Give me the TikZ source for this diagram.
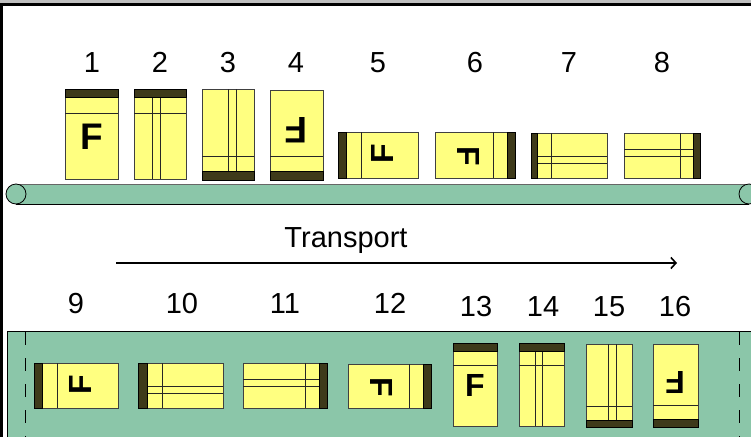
\documentclass[tikz,border=0pt]{standalone}
\usepackage{fontspec}
\setmainfont{Liberation Sans}
\usepackage{tikz}
\usetikzlibrary{arrows.meta}

\definecolor{beltgreen}{RGB}{139,198,169}
\definecolor{sheetyellow}{RGB}{255,255,128}
\definecolor{hemdark}{RGB}{62,58,26}

\begin{document}
\begin{tikzpicture}[x=1pt,y=-1pt,
  sheet/.style={draw=black!75,fill=sheetyellow,line width=0.8pt},
  hem/.style={draw=black,fill=hemdark,line width=0.6pt},
  fold/.style={draw=black!85,line width=0.7pt},
  belt/.style={fill=beltgreen,draw=black,line width=0.8pt},
  letter/.style={font=\fontsize{37}{37}\selectfont\bfseries,inner sep=0pt},
  smallletter/.style={font=\fontsize{32}{32}\selectfont\bfseries,inner sep=0pt},
  num/.style={font=\fontsize{29}{29}\selectfont,anchor=base,inner sep=0pt},
  arrow/.style={-{Straight Barb[length=5pt,width=11pt]},line width=1.6pt}
]
\useasboundingbox (0,0) rectangle (751,437);
% frame
\fill[black!25] (0,0) rectangle (751,3);
\fill[black] (0,3) rectangle (751,6);
\fill[black] (0,3) rectangle (2.5,437);

% upper conveyor
\fill[beltgreen] (16,184) rectangle (749,204);
\draw[black!60,line width=0.8pt] (16,184) -- (749,184);
\draw[line width=0.8pt] (16,204) -- (749,204);
\draw[belt] (16,194) circle (10);
\draw[belt] (749,194) circle (10);

% lower conveyor
\fill[beltgreen] (7,331) rectangle (751,437);
\draw[line width=0.8pt] (751,331) -- (7,331) -- (7,437);
\draw[line width=0.8pt,dash pattern=on 13pt off 13pt] (25,332) -- (25,437);
\draw[line width=0.8pt,dash pattern=on 13pt off 13pt] (739,332) -- (739,437);

% numbers
\foreach \i/\x in {1/92,2/160,3/228,4/296,5/378,6/475,7/569,8/662}
  \node[num] (n\i) at (\x,72) {\i};
\foreach \i/\x in {9/76,10/182,11/285,12/390}
  \node[num] (n\i) at (\x,313) {\i};
\foreach \i/\x in {13/476,14/543,15/609,16/675}
  \node[num] (n\i) at (\x,316) {\i};

% transport direction
\node[num] (transport) at (346,247) {Transport};
\coordinate (tstart) at (116,263);
\coordinate (tend) at (677,263);
\draw[arrow] (tstart) -- (tend);

% sheet 1
\draw[sheet] (65,89) rectangle (118,179);
\draw[hem] (65,89) rectangle (118,97);
\draw[fold] (65,113) -- (118,113);
\node[letter] (f1) at (92,137) {F};
% sheet 2
\draw[sheet] (134,89) rectangle (186,179);
\draw[fold] (152,89) -- (152,179) (160,89) -- (160,179);
\draw[hem] (134,89) rectangle (186,97);
\draw[fold] (134,113) -- (186,113);
% sheet 3
\draw[sheet] (202,89) rectangle (254,180);
\draw[fold] (228,89) -- (228,180) (236,89) -- (236,180);
\draw[hem] (202,171) rectangle (254,180);
\draw[fold] (202,156) -- (254,156);
% sheet 4
\draw[sheet] (270,90) rectangle (323,180);
\draw[hem] (270,171) rectangle (323,180);
\draw[fold] (270,156) -- (323,156);
\node[letter,rotate=180] (f4) at (296,130) {F};
% sheet 5
\draw[sheet] (338,132) rectangle (418,178);
\draw[hem] (338,132) rectangle (346,178);
\draw[fold] (361,132) -- (361,178);
\node[smallletter,rotate=90] (f5) at (382,154) {F};
% sheet 6
\draw[sheet] (435,132) rectangle (515,178);
\draw[hem] (507,132) rectangle (515,178);
\draw[fold] (493,132) -- (493,178);
\node[smallletter,rotate=-90] (f6) at (468,156) {F};
% sheet 7
\draw[sheet] (531,133) rectangle (607,178);
\draw[fold] (531,156) -- (607,156) (531,163) -- (607,163);
\draw[hem] (531,133) rectangle (537,178);
\draw[fold] (551,133) -- (551,178);
% sheet 8
\draw[sheet] (624,133) rectangle (700,178);
\draw[fold] (624,149) -- (700,149) (624,156) -- (700,156);
\draw[hem] (693,133) rectangle (700,178);
\draw[fold] (680,133) -- (680,178);

% sheet 9
\draw[sheet] (34,363) rectangle (118,408);
\draw[hem] (34,363) rectangle (42,408);
\draw[fold] (57,363) -- (57,408);
\node[smallletter,rotate=90] (f9) at (80,385) {F};
% sheet 10
\draw[sheet] (138,363) rectangle (223,408);
\draw[fold] (138,386) -- (223,386) (138,393) -- (223,393);
\draw[hem] (138,363) rectangle (147,408);
\draw[fold] (162,363) -- (162,408);
% sheet 11
\draw[sheet] (243,363) rectangle (327,408);
\draw[fold] (243,379) -- (327,379) (243,386) -- (327,386);
\draw[hem] (319,363) rectangle (327,408);
\draw[fold] (305,363) -- (305,408);
% sheet 12
\draw[sheet] (348,364) rectangle (431,408);
\draw[hem] (423,364) rectangle (431,408);
\draw[fold] (409,364) -- (409,408);
\node[smallletter,rotate=-90] (f12) at (382,387) {F};
% sheet 13
\draw[sheet] (453,343) rectangle (497,426);
\draw[hem] (453,343) rectangle (497,351);
\draw[fold] (453,365) -- (497,365);
\node[smallletter] (f13) at (475,385) {F};
% sheet 14
\draw[sheet] (519,343) rectangle (564,426);
\draw[fold] (535,343) -- (535,426) (542,343) -- (542,426);
\draw[hem] (519,343) rectangle (564,351);
\draw[fold] (519,365) -- (564,365);
% sheet 15
\draw[sheet] (586,344) rectangle (632,427);
\draw[fold] (608,344) -- (608,427) (616,344) -- (616,427);
\draw[hem] (586,420) rectangle (632,427);
\draw[fold] (586,406) -- (632,406);
% sheet 16
\draw[sheet] (653,344) rectangle (698,427);
\draw[hem] (653,419) rectangle (698,427);
\draw[fold] (653,405) -- (698,405);
\node[smallletter,rotate=180] (f16) at (675,382) {F};
\end{tikzpicture}
\end{document}
